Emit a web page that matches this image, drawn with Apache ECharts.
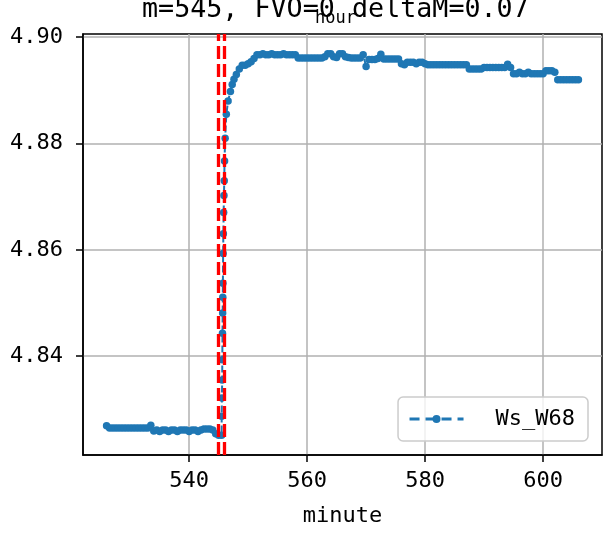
<!DOCTYPE html>
<html>
<head>
<meta charset="utf-8">
<script src="https://cdn.jsdelivr.net/npm/echarts@6/dist/echarts.min.js"></script>
<style>
html,body{margin:0;padding:0;background:#fff;}
#chart{width:606px;height:539px;}
</style>
</head>
<body>
<div id="chart"></div>
<script>
// ---- data ----
const minutes = [
  526, 526.5, 527, 527.5, 528, 528.5, 529, 529.5, 530, 530.5,
  531, 531.5, 532, 532.5, 533, 533.5, 534, 534.5, 535, 535.5,
  536, 536.5, 537, 537.5, 538, 538.5, 539, 539.5, 540, 540.5,
  541, 541.5, 542, 542.5, 543, 543.5, 544, 544.5, 545, 545.5,
  545.52, 545.55, 545.6, 545.62, 545.65, 545.68, 545.7, 545.72, 545.76, 545.8,
  545.85, 545.9, 545.95, 546, 546.1, 546.3, 546.6, 547, 547.3, 547.6,
  548, 548.5, 549, 549.5, 550, 550.5, 551, 551.5, 552, 552.5,
  553, 553.5, 554, 554.5, 555, 555.5, 556, 556.5, 557, 557.5,
  558, 558.5, 559, 559.5, 560, 560.5, 561, 561.5, 562, 562.5,
  563, 563.5, 564, 564.5, 565, 565.5, 566, 566.5, 567, 567.5,
  568, 568.5, 569, 569.5, 570, 570.5, 571, 571.5, 572, 572.5,
  573, 573.5, 574, 574.5, 575, 575.5, 576, 576.5, 577, 577.5,
  578, 578.5, 579, 579.5, 580, 580.5, 581, 581.5, 582, 582.5,
  583, 583.5, 584, 584.5, 585, 585.5, 586, 586.5, 587, 587.5,
  588, 588.5, 589, 589.5, 590, 590.5, 591, 591.5, 592, 592.5,
  593, 593.5, 594, 594.5, 595, 595.5, 596, 596.5, 597, 597.5,
  598, 598.5, 599, 599.5, 600, 600.5, 601, 601.5, 602, 602.5,
  603, 603.5, 604, 604.5, 605, 605.5, 606
];
const wsW68 = [
  4.8269, 4.8265, 4.8265, 4.8265, 4.8265, 4.8265, 4.8265, 4.8265, 4.8265, 4.8265,
  4.8265, 4.8265, 4.8265, 4.8265, 4.8265, 4.8270, 4.8259, 4.8261, 4.8258, 4.8261,
  4.8261, 4.8258, 4.8261, 4.8261, 4.8258, 4.8261, 4.8261, 4.8261, 4.8258, 4.8261,
  4.8261, 4.8258, 4.8261, 4.8263, 4.8263, 4.8263, 4.8261, 4.8254, 4.8251, 4.8251,
  4.8287, 4.8321, 4.8355, 4.8393, 4.8443, 4.8481, 4.8511, 4.8537, 4.8593, 4.8630,
  4.8670, 4.8702, 4.8730, 4.8767, 4.8810, 4.8855, 4.8880, 4.8898, 4.8911, 4.8921,
  4.8930, 4.8940, 4.8947, 4.8947, 4.8950, 4.8954, 4.8960, 4.8967, 4.8967, 4.8969,
  4.8967, 4.8967, 4.8969, 4.8967, 4.8967, 4.8967, 4.8969, 4.8967, 4.8967, 4.8967,
  4.8967, 4.8961, 4.8961, 4.8961, 4.8961, 4.8961, 4.8961, 4.8961, 4.8961, 4.8961,
  4.8963, 4.8969, 4.8969, 4.8963, 4.8962, 4.8969, 4.8969, 4.8963, 4.8962, 4.8961,
  4.8961, 4.8961, 4.8961, 4.8967, 4.8945, 4.8958, 4.8958, 4.8958, 4.8960, 4.8968,
  4.8959, 4.8959, 4.8959, 4.8959, 4.8959, 4.8959, 4.8950, 4.8948, 4.8953, 4.8953,
  4.8953, 4.8950, 4.8953, 4.8953, 4.8950, 4.8948, 4.8948, 4.8948, 4.8948, 4.8948,
  4.8948, 4.8948, 4.8948, 4.8948, 4.8948, 4.8948, 4.8948, 4.8948, 4.8948, 4.8940,
  4.8940, 4.8940, 4.8940, 4.8940, 4.8943, 4.8943, 4.8943, 4.8943, 4.8943, 4.8943,
  4.8943, 4.8943, 4.8949, 4.8943, 4.8931, 4.8931, 4.8934, 4.8931, 4.8931, 4.8934,
  4.8931, 4.8931, 4.8931, 4.8931, 4.8931, 4.8937, 4.8937, 4.8937, 4.8934, 4.8920,
  4.8920, 4.8920, 4.8920, 4.8920, 4.8920, 4.8920, 4.8920
];
const markerMinutes = [545, 546];
const xTicks = [540, 560, 580, 600];
const yTicks = [4.84, 4.86, 4.88, 4.90];
const seriesName = 'Ws_W68';
const titleMain = 'm=545, FVO=0';
const titleSub = 'hour';
const titleTail = 'deltaM=0.07';
const xName = 'minute';

const seriesData = minutes.map((m, i) => [m, wsW68[i]]);

const FONT = 'DejaVu Sans Mono';
const chart = echarts.init(document.getElementById('chart'), null, {renderer: 'canvas'});
chart.setOption({
  animation: false,
  backgroundColor: '#fff',
  grid: {
    left: 83, right: 4, top: 34, bottom: 84,
    show: true, borderColor: '#000', borderWidth: 1.5,
    backgroundColor: 'transparent',
    containLabel: false, outerBoundsMode: 'none'
  },
  xAxis: {
    type: 'value', min: 522, max: 610,
    name: xName, nameLocation: 'middle', nameGap: 50,
    nameTextStyle: {fontFamily: FONT, fontSize: 22, color: '#000'},
    axisLine: {show: true, onZero: false, lineStyle: {color: '#000', width: 1.5}},
    axisTick: {show: true, length: 7, customValues: xTicks, lineStyle: {color: '#000', width: 1.5}},
    axisLabel: {customValues: xTicks, fontFamily: FONT, fontSize: 22, color: '#000', margin: 15},
    splitLine: {show: true, lineStyle: {color: '#b0b0b0', width: 1.5}}
  },
  yAxis: {
    type: 'value', min: 4.8214, max: 4.9006,
    axisLine: {show: true, lineStyle: {color: '#000', width: 1.5}},
    axisTick: {show: true, length: 7, customValues: yTicks, lineStyle: {color: '#000', width: 1.5}},
    axisLabel: {customValues: yTicks, fontFamily: FONT, fontSize: 22, color: '#000', margin: 20,
      formatter: v => v.toFixed(2)},
    splitLine: {show: true, lineStyle: {color: '#b0b0b0', width: 1.5}}
  },
  legend: {
    data: [seriesName],
    right: 18, top: 397,
    orient: 'vertical',
    padding: [11, 13, 11, 10],
    itemWidth: 54, itemHeight: 10,
    lineStyle: {width: 3, type: [10, 6]},
    borderColor: '#cccccc', borderWidth: 1.5, borderRadius: 5,
    backgroundColor: 'rgba(255,255,255,0.8)',
    textStyle: {fontFamily: FONT, fontSize: 22, color: '#000', padding: [0, 0, 0, 27]}
  },
  graphic: [
    {type: 'text', left: 142, top: -3, style: {text: titleMain, font: '26.7px "DejaVu Sans Mono"', fill: '#000'}},
    {type: 'text', left: 315, top: 10, style: {text: titleSub, font: '17px "DejaVu Sans Mono"', fill: '#000'}},
    {type: 'text', left: 352, top: -3, style: {text: titleTail, font: '26.7px "DejaVu Sans Mono"', fill: '#000'}}
  ],
  series: [{
    name: seriesName,
    type: 'line',
    data: seriesData,
    showAllSymbol: true,
    symbol: 'circle',
    symbolSize: 7.5,
    color: '#1f77b4',
    itemStyle: {color: '#1f77b4'},
    lineStyle: {color: '#1f77b4', width: 2, type: [7, 3]},
    markLine: {
      silent: true,
      symbol: ['none', 'none'],
      label: {show: false},
      lineStyle: {color: '#ff0000', width: 3.3, type: [13, 5]},
      data: markerMinutes.map(m => ({xAxis: m}))
    }
  }]
});
</script>
</body>
</html>
